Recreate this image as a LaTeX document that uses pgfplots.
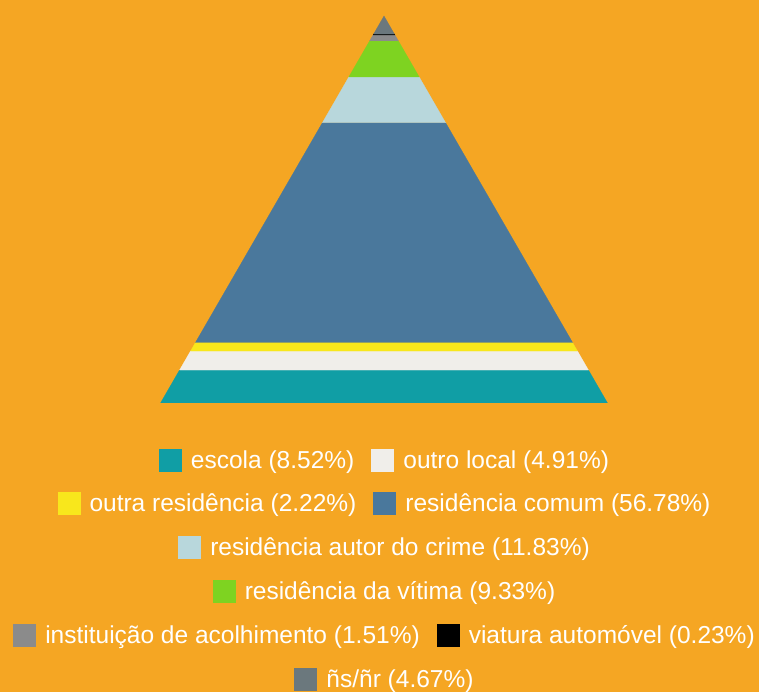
\documentclass[border=0pt]{standalone}
\usepackage{pgfplots}
\pgfplotsset{compat=1.18}
\usepackage{fontspec}
\setmainfont{Liberation Sans}
\definecolor{bg}{HTML}{F5A623}
\definecolor{cEsc}{HTML}{109EA5}
\definecolor{cOut}{HTML}{F0EEEA}
\definecolor{cOres}{HTML}{F8E71C}
\definecolor{cCom}{HTML}{4A789C}
\definecolor{cAut}{HTML}{B8D7DC}
\definecolor{cVit}{HTML}{7ED321}
\definecolor{cIns}{HTML}{8B8B8B}
\definecolor{cVia}{HTML}{000000}
\definecolor{cNs}{HTML}{6B787D}
\newcommand{\sw}[1]{\raisebox{-3.5pt}{\textcolor{#1}{\rule{23pt}{23pt}}}\hspace{9pt}}
\newcommand{\gap}{\hspace{17pt}}
\begin{document}
\begin{tikzpicture}[x=1pt,y=1pt]
\useasboundingbox (0,0) rectangle (759,692);
\fill[bg] (0,0) rectangle (759,692);
\begin{axis}[at={(160.5pt,289pt)}, anchor=south west, scale only axis,
  width=447pt, height=387pt, xmin=-1, xmax=1, ymin=0, ymax=100, hide axis]
% segments: cumulative bottom/top percentages; half-width = 1 - y/100
\addplot[fill=cEsc, draw=cEsc, line width=0.2pt] coordinates {(-1,0) (1,0) (0.9148,8.52) (-0.9148,8.52) (-1,0)};
\addplot[fill=cOut, draw=cOut, line width=0.2pt] coordinates {(-0.9148,8.52) (0.9148,8.52) (0.8657,13.43) (-0.8657,13.43) (-0.9148,8.52)};
\addplot[fill=cOres, draw=cOres, line width=0.2pt] coordinates {(-0.8657,13.43) (0.8657,13.43) (0.8435,15.65) (-0.8435,15.65) (-0.8657,13.43)};
\addplot[fill=cCom, draw=cCom, line width=0.2pt] coordinates {(-0.8435,15.65) (0.8435,15.65) (0.2757,72.43) (-0.2757,72.43) (-0.8435,15.65)};
\addplot[fill=cAut, draw=cAut, line width=0.2pt] coordinates {(-0.2757,72.43) (0.2757,72.43) (0.1574,84.26) (-0.1574,84.26) (-0.2757,72.43)};
\addplot[fill=cVit, draw=cVit, line width=0.2pt] coordinates {(-0.1574,84.26) (0.1574,84.26) (0.0641,93.59) (-0.0641,93.59) (-0.1574,84.26)};
\addplot[fill=cIns, draw=cIns, line width=0.2pt] coordinates {(-0.0641,93.59) (0.0641,93.59) (0.0490,95.10) (-0.0490,95.10) (-0.0641,93.59)};
\addplot[fill=cVia, draw=cVia, line width=0.2pt] coordinates {(-0.0490,95.10) (0.0490,95.10) (0.0467,95.33) (-0.0467,95.33) (-0.0490,95.10)};
\addplot[fill=cNs, draw=cNs, line width=0.2pt] coordinates {(-0.0467,95.33) (0.0467,95.33) (0,100) (-0.0467,95.33)};
\end{axis}
\begin{scope}[every node/.style={text=white, font=\fontsize{24.5}{28}\selectfont, inner sep=0pt}]
\node at (384,231) {\sw{cEsc}escola (8.52\%)\gap\sw{cOut}outro local (4.91\%)};
\node at (384,188) {\sw{cOres}outra residência (2.22\%)\gap\sw{cCom}residência comum (56.78\%)};
\node at (384,144) {\sw{cAut}residência autor do crime (11.83\%)};
\node at (384,100) {\sw{cVit}residência da vítima (9.33\%)};
\node at (384,56) {\sw{cIns}instituição de acolhimento (1.51\%)\gap\sw{cVia}viatura automóvel (0.23\%)};
\node at (384,12) {\sw{cNs}ñs/ñr (4.67\%)};
\end{scope}
\end{tikzpicture}
\end{document}
